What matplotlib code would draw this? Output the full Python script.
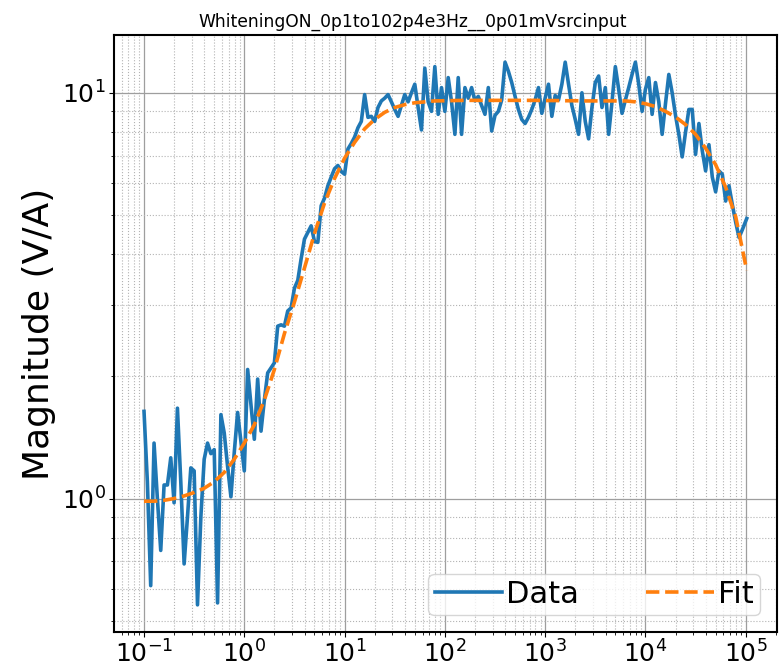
import matplotlib.pyplot as plt

# swept frequencies (Hz), 30 points per decade from 0.1 Hz to 102.4 kHz
freq = [
    0.1, 0.108, 0.1166, 0.1259, 0.1359, 0.1468, 0.1585, 0.1711, 0.1848, 0.1995,
    0.2154, 0.2326, 0.2512, 0.2712, 0.2929, 0.3162, 0.3415, 0.3687, 0.3981, 0.4299,
    0.4642, 0.5012, 0.5412, 0.5843, 0.631, 0.6813, 0.7356, 0.7943, 0.8577, 0.9261,
    1.0, 1.08, 1.166, 1.259, 1.359, 1.468, 1.585, 1.711, 1.848, 1.995,
    2.154, 2.326, 2.512, 2.712, 2.929, 3.162, 3.415, 3.687, 3.981, 4.299,
    4.642, 5.012, 5.412, 5.843, 6.31, 6.813, 7.356, 7.943, 8.577, 9.261,
    10.0, 10.8, 11.66, 12.59, 13.59, 14.68, 15.85, 17.11, 18.48, 19.95,
    21.54, 23.26, 25.12, 27.12, 29.29, 31.62, 34.15, 36.87, 39.81, 42.99,
    46.42, 50.12, 54.12, 58.43, 63.1, 68.13, 73.56, 79.43, 85.77, 92.61,
    100.0, 108.0, 116.6, 125.9, 135.9, 146.8, 158.5, 171.1, 184.8, 199.5,
    215.4, 232.6, 251.2, 271.2, 292.9, 316.2, 341.5, 368.7, 398.1, 429.9,
    464.2, 501.2, 541.2, 584.3, 631.0, 681.3, 735.6, 794.3, 857.7, 926.1,
    1000, 1080, 1166, 1259, 1359, 1468, 1585, 1711, 1848, 1995,
    2154, 2326, 2512, 2712, 2929, 3162, 3415, 3687, 3981, 4299,
    4642, 5012, 5412, 5843, 6310, 6813, 7356, 7943, 8577, 9261,
    10000, 10800, 11660, 12590, 13590, 14680, 15850, 17110, 18480, 19950,
    21540, 23260, 25120, 27120, 29290, 31620, 34150, 36870, 39810, 42990,
    46420, 50120, 54120, 58430, 63100, 68130, 73560, 79430, 85770, 92610,
    102400,
]

# measured transimpedance magnitude (V/A)
magnitude = [
    1.64, 1.1, 0.61, 1.37, 1.0, 0.745, 1.08, 1.08, 1.26, 0.976,
    1.67, 1.1, 0.69, 0.9, 1.19, 1.17, 0.547, 0.9, 1.25, 1.37,
    1.29, 1.32, 0.553, 1.61, 1.45, 1.2, 1.01, 1.3, 1.63, 1.38,
    1.17, 2.08, 1.7, 1.40, 1.97, 1.466, 1.75, 2.04, 2.1, 2.16,
    2.66, 2.68, 2.66, 2.9, 2.95, 3.3, 3.45, 3.9, 4.36, 4.53,
    4.7, 4.3, 4.28, 5.27, 5.5, 5.9, 6.2, 6.5, 6.62, 6.4,
    6.3, 7.27, 7.5, 7.78, 8.2, 8.5, 9.9, 8.7, 8.75, 8.5,
    9.2, 9.55, 9.7, 9.9, 9.5, 9.1, 8.75, 9.3, 9.9, 9.5,
    10.0, 10.5, 9.2, 8.1, 11.5, 9.5, 9.0, 11.6, 8.85, 10.3,
    9.0, 10.9, 9.5, 7.9, 10.9, 7.9, 10.3, 9.7, 10.3, 9.55,
    9.8, 9.3, 8.85, 10.3, 8.05, 8.8, 9.0, 9.6, 11.9, 11.3,
    10.6, 9.8, 9.1, 8.6, 8.4, 8.7, 9.1, 9.6, 10.3, 8.9,
    9.7, 10.5, 8.75, 9.85, 9.6, 10.5, 11.9, 10.5, 9.3, 8.6,
    7.9, 10.0, 8.5, 7.7, 9.2, 10.6, 11.0, 9.2, 10.3, 7.9,
    9.5, 11.6, 10.2, 8.9, 9.6, 10.3, 11.1, 11.9, 10.5, 9.0,
    10.2, 10.9, 8.85, 10.6, 9.5, 7.9, 9.4, 11.1, 10.0, 8.8,
    7.9, 6.95, 8.0, 9.1, 9.1, 7.05, 8.4, 7.2, 6.42, 7.45,
    6.2, 5.7, 6.42, 6.3, 5.41, 5.9, 5.3, 4.8, 4.4, 4.6,
    4.9,
]

# fitted response, 10 points per decade
fit_freq = [
    0.1, 0.1259, 0.1585, 0.1995, 0.2512, 0.3162, 0.3981, 0.5012, 0.631, 0.7943,
    1.0, 1.259, 1.585, 1.995, 2.512, 3.162, 3.981, 5.012, 6.31, 7.943,
    10.0, 12.59, 15.85, 19.95, 25.12, 31.62, 39.81, 50.12, 63.1, 79.43,
    100.0, 125.9, 158.5, 199.5, 251.2, 316.2, 398.1, 501.2, 631.0, 794.3,
    1000, 1259, 1585, 1995, 2512, 3162, 3981, 5012, 6310, 7943,
    10000, 12590, 15850, 19950, 25120, 31620, 39810, 50120, 63100, 79430,
    102400,
]
fit_mag = [
    0.985, 0.985, 0.99, 1.0, 1.015, 1.035, 1.06, 1.1, 1.16, 1.25,
    1.37, 1.52, 1.75, 2.08, 2.55, 3.05, 3.7, 4.5, 5.35, 6.15,
    6.9, 7.55, 8.15, 8.6, 8.95, 9.2, 9.35, 9.45, 9.5, 9.55,
    9.56, 9.57, 9.58, 9.58, 9.58, 9.58, 9.58, 9.58, 9.58, 9.58,
    9.57, 9.57, 9.56, 9.56, 9.55, 9.55, 9.55, 9.55, 9.55, 9.5,
    9.4, 9.25, 9.0, 8.72, 8.35, 7.9, 7.3, 6.65, 5.85, 4.95,
    3.65,
]

fig = plt.figure(figsize=(7.8, 6.67), dpi=100)
ax = fig.add_axes([0.146, 0.0525, 0.85, 0.895])

ax.plot(freq, magnitude, color="#1f77b4", linewidth=2.6, label="Data")
ax.plot(fit_freq, fit_mag, color="#ff7f0e", linestyle="--", linewidth=2.6, label="Fit")

ax.set_xscale("log")
ax.set_yscale("log")

ax.grid(True, which="major", color="0.62", linewidth=0.9)
ax.grid(True, which="minor", color="0.7", linestyle=":", linewidth=0.8)

ax.set_ylabel("Magnitude (V/A)", fontsize=26)
ax.set_title("WhiteningON_0p1to102p4e3Hz__0p01mVsrcinput", fontsize=12.3, x=0.451)
ax.tick_params(axis="both", which="major", labelsize=18, pad=2.5)
for s in ax.spines.values():
    s.set_linewidth(1.5)

ax.legend(loc="lower right", ncol=2, fontsize=22, borderpad=0.2,
          handlelength=2.2, handletextpad=0.15, columnspacing=2.2,
          borderaxespad=0.55)

fig.savefig("out.png", dpi=100)
